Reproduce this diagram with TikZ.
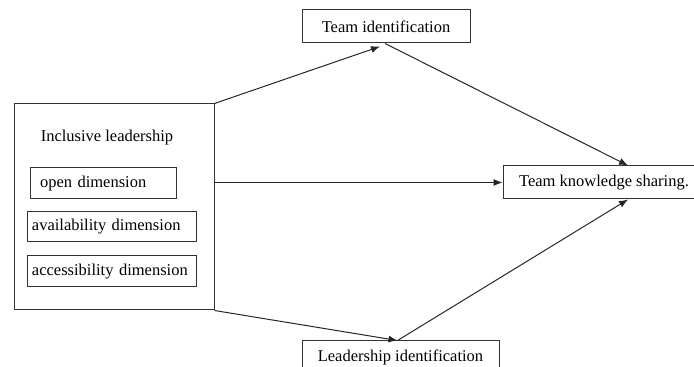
\documentclass[tikz,border=0pt]{standalone}
\usepackage{fontspec}
\setmainfont{Liberation Serif}
\usetikzlibrary{arrows.meta}

\begin{document}
\begin{tikzpicture}
     [
     x=0.5pt, y=-0.5pt,
     kasten/.style = {draw=black!80, line width=0.5pt, minimum height=16.5pt, inner sep=0pt},
     dim/.style = {draw=black!80, line width=0.5pt, minimum height=15.5pt, inner ysep=0pt, align=left},
     pfeil/.style = {->, draw=black!85, line width=0.5pt},
     >={Latex[length=4.5pt,width=3.5pt]}
     ]
     \fontsize{8.25}{10}\selectfont

     \useasboundingbox (0,0) rectangle (694,367);
     \clip (0,0) rectangle (694,367);

     \path (114,207) node[kasten, minimum width=100pt, minimum height=103pt] (il) {}
           (107,138) node (ilt) {Inclusive leadership}
           (103,183.5) node[dim, text width=63pt, inner xsep=5pt] (od) {open dimension}
           (111.5,227) node[dim, text width=79.5pt, inner xsep=2.5pt, minimum height=15pt] (avd) {availability dimension}
           (111.5,271.5) node[dim, text width=79.5pt, inner xsep=2.5pt] (acd) {accessibility dimension}
           (386,26.5) node[kasten, minimum width=84pt] (ti) {Team identification}
           (604,182.5) node[kasten, minimum width=101pt] (tks) {Team knowledge sharing.}
           (400.5,357.5) node[kasten, minimum width=98.5pt] (li) {Leadership identification}
     ;

     \draw[pfeil] (il.north east) -- ([xshift=-3pt,yshift=-1.5pt]ti.south);
     \draw[pfeil] ([xshift=-0.5pt]ti.south) -- ([xshift=12pt]tks.north);
     \draw[pfeil] (il.east |- tks.west) -- (tks.west);
     \draw[pfeil] (il.south east) -- ([xshift=-1.5pt]li.north);
     \draw[pfeil] ([xshift=-1.5pt]li.north) -- ([xshift=12pt]tks.south);
\end{tikzpicture}
\end{document}
